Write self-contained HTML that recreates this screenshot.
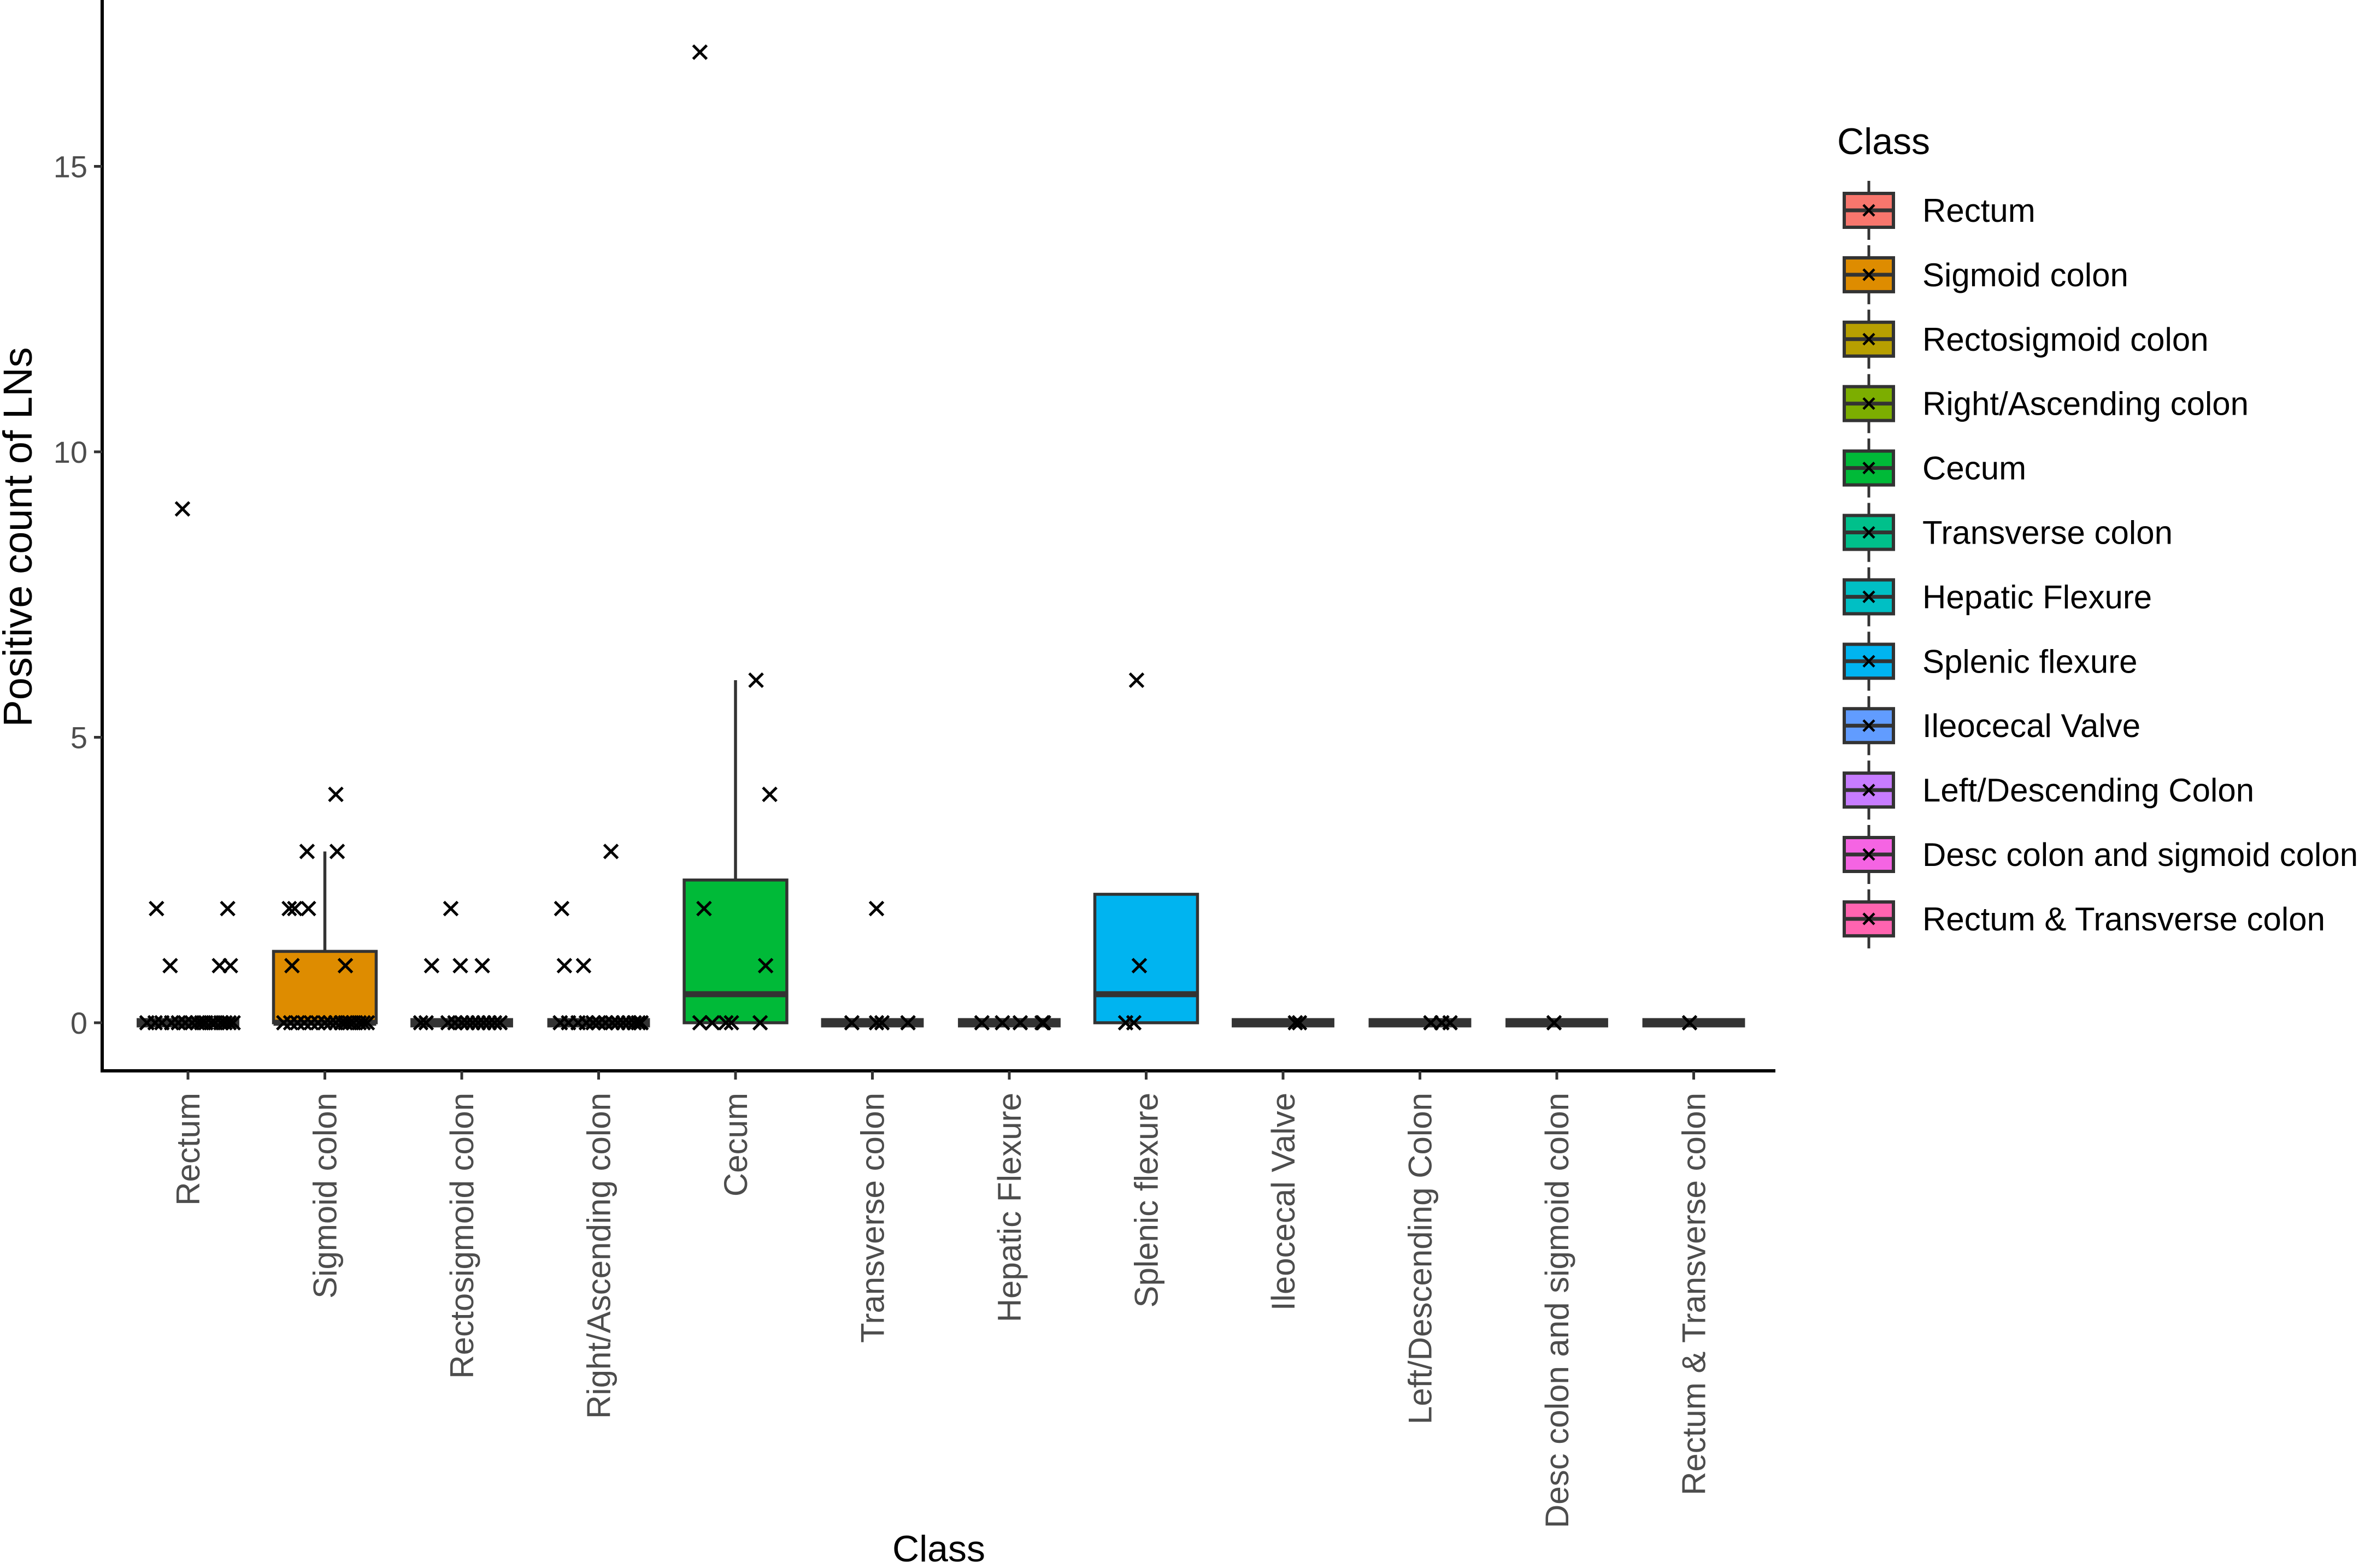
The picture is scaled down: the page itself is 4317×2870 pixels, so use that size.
<!DOCTYPE html>
<html><head><meta charset="utf-8"><style>
html,body{margin:0;padding:0;background:#fff;}
svg{display:block;font-family:"Liberation Sans",Arial,sans-serif;}
</style></head><body>
<svg id="chart" width="4317" height="2870" viewBox="0 0 4317 2870" xmlns="http://www.w3.org/2000/svg">
<rect width="4317" height="2870" fill="#fff"/>
<g id="plot"></g>
<g id="legend"></g>
</svg>
<script>
const categories = ["Rectum","Sigmoid colon","Rectosigmoid colon","Right/Ascending colon","Cecum","Transverse colon","Hepatic Flexure","Splenic flexure","Ileocecal Valve","Left/Descending Colon","Desc colon and sigmoid colon","Rectum & Transverse colon"];
const colors = ["#F8766D","#DE8C00","#B79F00","#7CAE00","#00BA38","#00C08B","#00BFC4","#00B4F0","#619CFF","#C77CFF","#F564E3","#FF64B0"];
const q1 = [0,0,0,0,0,0,0,0,0,0,0,0];
const medians = [0,0,0,0,0.5,0,0,0.5,0,0,0,0];
const q3 = [0,1.25,0,0,2.5,0,0,2.25,0,0,0,0];
const whiskerLow = [0,0,0,0,0,0,0,0,0,0,0,0];
const whiskerHigh = [0,3,0,0,6,0,0,2.25,0,0,0,0];
const yTicks = [0,5,10,15];
const pointValues = [
 [9,2,2,1,1,1,0,0,0,0,0,0,0,0,0,0,0,0,0,0,0,0],
 [4,3,3,2,2,2,1,1,0,0,0,0,0,0,0,0,0,0,0,0,0,0,0,0],
 [2,1,1,1,0,0,0,0,0,0,0,0,0,0,0,0],
 [3,2,1,1,0,0,0,0,0,0,0,0,0,0,0,0,0,0],
 [17,6,4,2,1,0,0,0,0,0],
 [2,0,0,0,0],
 [0,0,0,0,0],
 [6,1,0,0],
 [0,0],
 [0,0,0],
 [0],
 [0]
];
const pointJitter = [
 [-0.04,-0.23,0.29,-0.13,0.23,0.31,-0.3,-0.24,-0.19,-0.12,-0.07,-0.02,0.03,0.07,0.1,0.13,0.17,0.2,0.24,0.27,0.3,0.33],
 [0.08,-0.13,0.09,-0.26,-0.22,-0.12,-0.24,0.15,-0.3,-0.25,-0.2,-0.15,-0.1,-0.05,0.0,0.04,0.08,0.12,0.15,0.18,0.21,0.25,0.28,0.31],
 [-0.08,-0.22,-0.01,0.15,-0.3,-0.26,-0.1,-0.05,0.0,0.04,0.08,0.12,0.16,0.2,0.24,0.28],
 [0.09,-0.27,-0.25,-0.11,-0.28,-0.22,-0.15,-0.09,-0.04,0.0,0.05,0.1,0.14,0.18,0.22,0.26,0.29,0.31],
 [-0.26,0.15,0.25,-0.23,0.22,-0.26,-0.17,-0.07,-0.03,0.18],
 [0.03,-0.15,0.03,0.07,0.26],
 [-0.2,-0.05,0.08,0.24,0.25],
 [-0.07,-0.05,-0.15,-0.09],
 [0.09,0.12],
 [0.08,0.16,0.22],
 [-0.02],
 [-0.03]
];
const NS="http://www.w3.org/2000/svg";
const plot=document.getElementById('plot');
const legend=document.getElementById('legend');
const X0=344, DX=250.5, Y0=1872, DY=104.5;
const xs=i=>X0+i*DX;
const ys=v=>Y0-v*DY;
const BW=0.75*DX;
function mk(tag,attrs,parent){const e=document.createElementNS(NS,tag);for(const k in attrs)e.setAttribute(k,attrs[k]);parent.appendChild(e);return e;}
let a=mk('line',{x1:187,y1:0,x2:187,y2:1962,stroke:'#000','stroke-width':6},plot);


a=mk('line',{x1:184,y1:1960,x2:3249,y2:1960,stroke:'#000','stroke-width':6},plot);


yTicks.forEach(t=>{
 const tk=mk('line',{x1:172,y1:ys(t),x2:187,y2:ys(t),stroke:'#333','stroke-width':5},plot);
 
 
 const tl=mk('text',{x:160,y:ys(t)+20,'text-anchor':'end','font-size':56,fill:'#4d4d4d'},plot);
 tl.textContent=t;
 
 
});
categories.forEach((c,i)=>{
 const x=xs(i);
 const tk=mk('line',{x1:x,y1:1960,x2:x,y2:1976,stroke:'#333','stroke-width':5},plot);
 
 
 const tl=mk('text',{x:0,y:0,'text-anchor':'end','font-size':60,fill:'#4d4d4d',transform:`translate(${x+21},2000) rotate(-90)`},plot);
 tl.textContent=c;
 
 
 const g=mk('g',{},plot);
 
 
 mk('line',{x1:x,y1:ys(q3[i]),x2:x,y2:ys(whiskerHigh[i]),stroke:'#333','stroke-width':5.5},g);
 mk('line',{x1:x,y1:ys(q1[i]),x2:x,y2:ys(whiskerLow[i]),stroke:'#333','stroke-width':5.5},g);
 const h=Math.max(ys(q1[i])-ys(q3[i]),0);
 mk('rect',{x:x-BW/2,y:ys(q3[i]),width:BW,height:h,fill:colors[i],stroke:'#333','stroke-width':5.5},g);
 mk('line',{x1:x-BW/2,y1:ys(medians[i]),x2:x+BW/2,y2:ys(medians[i]),stroke:'#333','stroke-width':h>0?11:17},g);
 pointValues[i].forEach((v,j)=>{
  const px=x+pointJitter[i][j]*DX, py=ys(v), s=12.5;
  const p=mk('path',{d:`M${px-s} ${py-s}L${px+s} ${py+s}M${px-s} ${py+s}L${px+s} ${py-s}`,stroke:'#000','stroke-width':5,fill:'none'},plot);
  
  
 });
});
let t=mk('text',{x:0,y:0,'text-anchor':'middle','font-size':74,fill:'#000',transform:'translate(58,983) rotate(-90)'},plot);
t.textContent='Positive count of LNs';


t=mk('text',{x:1718,y:2858,'text-anchor':'middle','font-size':68,fill:'#000'},plot);
t.textContent='Class';


t=mk('text',{x:3362,y:282,'font-size':68,fill:'#000'},legend);
t.textContent='Class';


categories.forEach((c,i)=>{
 const cy=385+i*117.9, kx=3420;
 const g=mk('g',{},legend);
 
 
 mk('line',{x1:kx,y1:cy-54,x2:kx,y2:cy+54,stroke:'#333','stroke-width':5},g);
 mk('rect',{x:kx-45,y:cy-31,width:90,height:62,fill:colors[i],stroke:'#333','stroke-width':6},g);
 mk('line',{x1:kx-45,y1:cy,x2:kx+45,y2:cy,stroke:'#333','stroke-width':7},g);
 mk('path',{d:`M${kx-10} ${cy-10}L${kx+10} ${cy+10}M${kx-10} ${cy+10}L${kx+10} ${cy-10}`,stroke:'#000','stroke-width':4.5,fill:'none'},g);
 const lt=mk('text',{x:3518,y:cy+21,'font-size':60,fill:'#000'},g);
 lt.textContent=c;
});
</script>
</body></html>
